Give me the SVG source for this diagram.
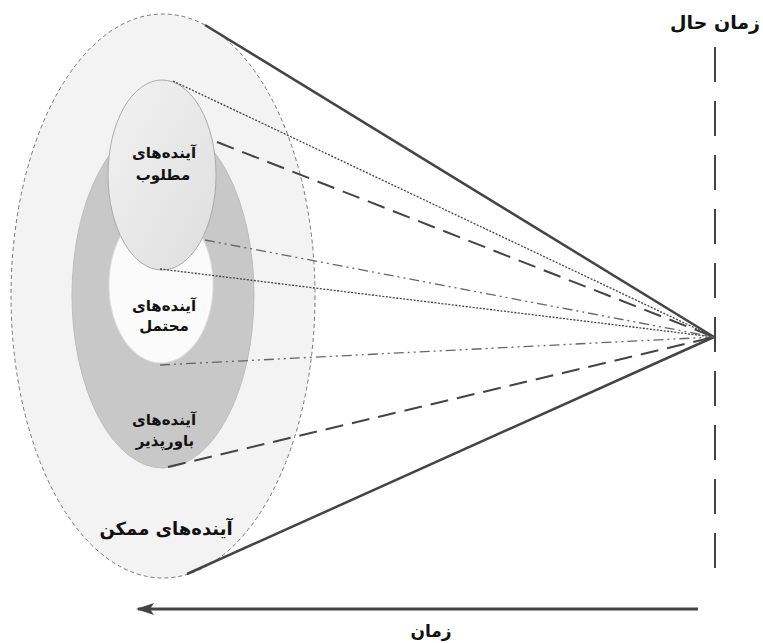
<svg xmlns="http://www.w3.org/2000/svg" width="763" height="643" viewBox="0 0 763 643">
<style>
.lbl{font-family:"DejaVu Sans","Noto Sans",sans-serif;font-weight:bold;fill:#111;text-anchor:middle}
.s{font-size:15px}
.solid{stroke:#444;stroke-width:2.5;fill:none}
.dash{stroke:#444;stroke-width:2;stroke-dasharray:18 9;fill:none}
.dot{stroke:#444;stroke-width:1.3;stroke-dasharray:2 1.5;fill:none}
.dd{stroke:#666;stroke-width:1.3;stroke-dasharray:10 4 2 4 2 4;fill:none}
</style>
<defs>
<marker id="ah" viewBox="0 0 18 12" refX="16" refY="6" markerWidth="18" markerHeight="12" markerUnits="userSpaceOnUse" orient="auto">
<path d="M18,6 L0,0 L4,6 L0,12 Z" fill="#444"/>
</marker>
<linearGradient id="gl" x1="0" y1="0" x2="1" y2="1">
<stop offset="0" stop-color="#f2f2f2"/><stop offset="1" stop-color="#dedede"/>
</linearGradient>
</defs>
<rect width="763" height="643" fill="#fff"/>
<g id="possible">
<ellipse cx="163" cy="296" rx="152" ry="282" fill="#f3f3f3" stroke="#777" stroke-width="1" stroke-dasharray="4 3"/>
<text class="lbl" x="166" y="535" font-size="18">آینده‌های ممکن</text>
</g>
<g id="plausible">
<ellipse cx="163" cy="295" rx="91" ry="173" fill="#c8c8c8" stroke="#bdbdbd" stroke-width="1"/>
</g>
<g id="probable">
<ellipse cx="161" cy="285" rx="52" ry="78" fill="#fbfbfb" stroke="#e0e0e0" stroke-width="1"/>
</g>
<g id="preferable">
<ellipse cx="162" cy="175" rx="54" ry="95" fill="url(#gl)" stroke="#aaa" stroke-width="1"/>
<text class="lbl s" x="164" y="158">آینده‌های</text>
<text class="lbl s" x="163" y="180">مطلوب</text>
</g>
<g id="probable-label">
<text class="lbl s" x="164" y="311">آینده‌های</text>
<text class="lbl s" x="164" y="331">محتمل</text>
</g>
<g id="plausible-label">
<text class="lbl s" x="164" y="425">آینده‌های</text>
<text class="lbl s" x="165" y="446">باورپذیر</text>
</g>
<g id="present">
<line x1="715" y1="47" x2="715" y2="570" stroke="#444" stroke-width="2" stroke-dasharray="35 19"/>
<text class="lbl" x="760" y="29" font-size="19" style="text-anchor:end">زمان حال</text>
</g>
<g id="time">
<text class="lbl" x="431" y="637" font-size="17">زمان</text>
</g>
<g id="connectors">
<line class="solid" x1="205" y1="25" x2="714" y2="337"/>
<line class="solid" x1="187" y1="574" x2="714" y2="337"/>
<line class="dot" x1="173" y1="81" x2="714" y2="337"/>
<line class="dash" x1="217" y1="142" x2="714" y2="337"/>
<line class="dd" x1="205" y1="240" x2="714" y2="337"/>
<line class="dot" x1="160" y1="269" x2="714" y2="337"/>
<line class="dd" x1="160" y1="365" x2="714" y2="337"/>
<line class="dash" x1="168" y1="467" x2="714" y2="337"/>
<line x1="698" y1="609" x2="138" y2="609" stroke="#444" stroke-width="3" marker-end="url(#ah)"/>
</g>
</svg>
